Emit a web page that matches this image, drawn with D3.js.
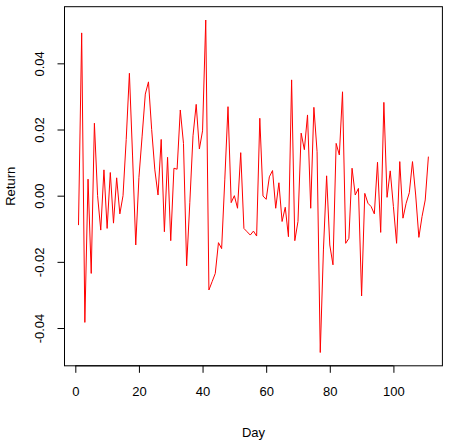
<!DOCTYPE html>
<html>
<head>
<meta charset="utf-8">
<script src="https://cdn.jsdelivr.net/npm/d3@7"></script>
<style>
  html, body { margin: 0; padding: 0; background: #fff; }
  svg { display: block; }
  text { font-family: "Liberation Sans", Arial, Helvetica, sans-serif; fill: #000; }
</style>
</head>
<body>
<svg id="chart" width="474" height="446"></svg>
<script>
// Daily returns, days 1..111
const returns = [
  -0.0089, 0.0492, -0.0383, 0.0050, -0.0235, 0.0219, 0.0000, -0.0104, 0.0078, -0.0099,
   0.0070, -0.0083, 0.0054, -0.0055, 0.0000, 0.0170, 0.0370, 0.0120, -0.0149, 0.0055,
   0.0180, 0.0307, 0.0344, 0.0200, 0.0078, 0.0002, 0.0170, -0.0109, 0.0116, -0.0136,
   0.0083, 0.0080, 0.0259, 0.0158, -0.0212, -0.0020, 0.0181, 0.0276, 0.0141, 0.0196,
   0.0531, -0.0285, -0.0260, -0.0235, -0.0142, -0.0160, 0.0050, 0.0269, -0.0021, 0.0000,
  -0.0038, 0.0130, -0.0099, -0.0109, -0.0119, -0.0107, -0.0122, 0.0234, -0.0001, -0.0011,
   0.0057, 0.0076, -0.0038, 0.0039, -0.0078, -0.0035, -0.0124, 0.0350, -0.0136, -0.0078,
   0.0189, 0.0139, 0.0244, -0.0038, 0.0267, 0.0133, -0.0474, -0.0164, 0.0060, -0.0149,
  -0.0209, 0.0158, 0.0123, 0.0314, -0.0144, -0.0129, 0.0083, 0.0002, 0.0022, -0.0303,
   0.0007, -0.0023, -0.0033, -0.0055, 0.0101, -0.0111, 0.0282, -0.0005, 0.0075, -0.0033,
  -0.0144, 0.0103, -0.0068, -0.0023, 0.0009, 0.0103, 0.0002, -0.0126, -0.0063, -0.0013,
   0.0118
];
const days = returns.map((_, i) => i + 1);
const xTicks = [0, 20, 40, 60, 80, 100];
const yTicks = [-0.04, -0.02, 0.00, 0.02, 0.04];
const yTickLabels = ["-0.04", "-0.02", "0.00", "0.02", "0.04"];
const xLabel = "Day";
const yLabel = "Return";

const svg = d3.select("#chart");
const plot = { left: 64.5, right: 442.4, top: 6.7, bottom: 365.8 };

// R-style 4% padding of data range
function padded(ext) { const p = (ext[1] - ext[0]) * 0.04; return [ext[0] - p, ext[1] + p]; }

const x = d3.scaleLinear().domain(padded(d3.extent(days))).range([plot.left, plot.right]);
const y = d3.scaleLinear().domain(padded(d3.extent(returns))).range([plot.bottom, plot.top]);

// Line
const line = d3.line().x((d, i) => x(days[i])).y(d => y(d));
svg.append("path")
  .datum(returns)
  .attr("d", line)
  .attr("fill", "none")
  .attr("stroke", "#FF0000")
  .attr("stroke-width", 1)
  .attr("stroke-linejoin", "miter");

// Box
svg.append("rect")
  .attr("x", plot.left).attr("y", plot.top)
  .attr("width", plot.right - plot.left).attr("height", plot.bottom - plot.top)
  .attr("fill", "none").attr("stroke", "#000").attr("stroke-width", 1);

// X axis (R style: line spans first to last tick)
const xAxis = d3.axisBottom(x).tickValues(xTicks).tickSize(7).tickPadding(14)
  .tickFormat(d3.format("d"));
const gx = svg.append("g").attr("transform", `translate(0,${plot.bottom})`).call(xAxis);
gx.select(".domain").remove();
gx.append("line").attr("x1", x(xTicks[0])).attr("x2", x(xTicks[xTicks.length - 1]))
  .attr("y1", 0).attr("y2", 0).attr("stroke", "#000");
gx.selectAll(".tick text").attr("font-size", 13).attr("fill", "#000")
  .attr("font-family", "Liberation Sans, Arial, sans-serif");

// Y axis
const yAxis = d3.axisLeft(y).tickValues(yTicks).tickSize(7)
  .tickFormat((d, i) => yTickLabels[i]);
const gy = svg.append("g").attr("transform", `translate(${plot.left},0)`).call(yAxis);
gy.select(".domain").remove();
gy.append("line").attr("y1", y(yTicks[0])).attr("y2", y(yTicks[yTicks.length - 1]))
  .attr("x1", 0).attr("x2", 0).attr("stroke", "#000");
gy.selectAll(".tick text")
  .attr("x", null).attr("dy", null)
  .attr("text-anchor", "middle")
  .attr("dominant-baseline", "central")
  .attr("transform", `translate(${39 - plot.left},0) rotate(-90)`)
  .attr("font-size", 13).attr("fill", "#000")
  .attr("font-family", "Liberation Sans, Arial, sans-serif");

// Axis titles
svg.append("text")
  .attr("x", (plot.left + plot.right) / 2).attr("y", 432)
  .attr("text-anchor", "middle").attr("dominant-baseline", "central")
  .attr("font-size", 13).text(xLabel);
svg.append("text")
  .attr("transform", `translate(10,${(plot.top + plot.bottom) / 2}) rotate(-90)`)
  .attr("text-anchor", "middle").attr("dominant-baseline", "central")
  .attr("font-size", 13).text(yLabel);
</script>
</body>
</html>
